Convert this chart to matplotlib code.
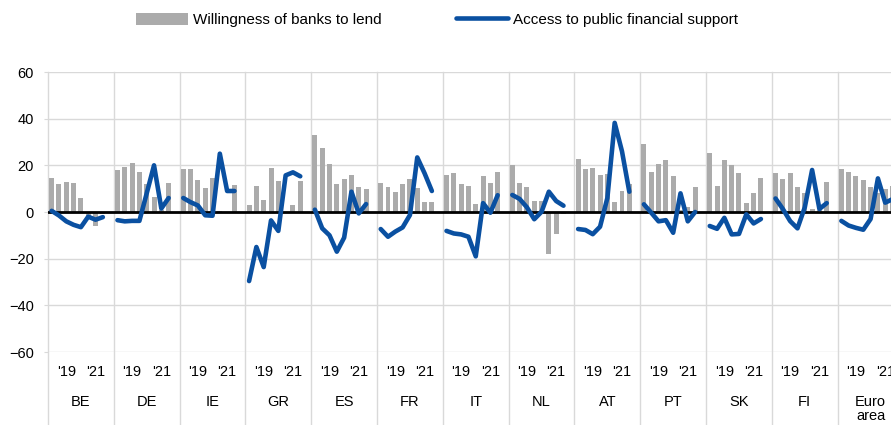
import matplotlib
matplotlib.use("Agg")
import matplotlib.pyplot as plt
import matplotlib.transforms as mtransforms
import numpy as np

plt.rcParams['font.family'] = ['Liberation Sans', 'DejaVu Sans']

countries = ['BE', 'DE', 'IE', 'GR', 'ES', 'FR', 'IT', 'NL', 'AT', 'PT', 'SK', 'FI', 'Euro\narea']
year_ticks = ["'19", "'21"]
year_slots = [2, 6]

# willingness of banks to lend (bars), 8 survey rounds per country
lend = [
    [14.5, 12, 13, 12.5, 6, -2, -6, -1],
    [18, 19.4, 21, 17.3, 12, 6.3, 1, 12.3],
    [18.6, 18.3, 13.6, 10.4, 14.5, 0.5, 0, 11.7],
    [3, 11.2, 5, 19, 13.2, 0, 2.8, 13.5],
    [33, 27.4, 20.7, 11.9, 14.1, 15.9, 10.6, 10],
    [12.3, 10.7, 8.6, 12.2, 14, 10.5, 4.2, 4.5],
    [16, 16.7, 11.9, 11.3, 3.3, 15.3, 12.4, 17],
    [20.1, 12.3, 10.9, 4.9, 4.7, -18, -9.6, -1],
    [22.7, 18.6, 18.7, 16, 16.3, 4.4, 9.1, 12],
    [29, 17.1, 20.7, 22.2, 15.6, 1, 2, 10.9],
    [25.3, 11.1, 22.3, 20.1, 16.7, 3.9, 8.1, 14.6],
    [16.6, 14.3, 16.6, 10.7, 8.2, 1.2, 1, 12.7],
    [18.6, 17.3, 15.6, 13.7, 10.9, 8, 10, 11],
]

# access to public financial support (line)
support = [
    [0.5, -1.5, -4, -5.5, -6.5, -2, -3.3, -2.2],
    [-3.5, -4, -3.8, -3.8, 8, 20, 1.5, 6],
    [6, 4.2, 2.8, -1.4, -1.6, 25, 9, 9],
    [-29.6, -15, -23.6, -3.6, -8.1, 15.7, 17, 15.3],
    [1, -7, -10, -17, -11, 8.7, -0.6, 3.4],
    [-7.3, -10.6, -8.4, -6.6, -1.3, 23.4, 16.6, 9],
    [-8.1, -9.2, -9.6, -10.6, -19, 3.8, -0.3, 7.2],
    [7.3, 5.6, 2, -3.1, 0.1, 8.7, 4.7, 2.7],
    [-7.3, -7.7, -9.5, -6.3, 6, 38.2, 26, 8.7],
    [3.3, -0.3, -4, -3.5, -8.9, 8, -4, 0],
    [-6, -7.2, -2.5, -9.6, -9.4, -1, -4.9, -3],
    [5.8, 1.3, -3.9, -7, 2, 18, 1.3, 3.8],
    [-3.8, -5.8, -6.8, -7.6, -3, 14.4, 4, 5.5],
]

n_per = len(lend[0])
slot = n_per + 1  # one empty slot between groups
blue = '#0a50a1'
grey = '#ababab'
grid_c = '#d9d9d9'

fig = plt.figure(figsize=(8.91, 4.25), dpi=100)
ax = fig.add_axes([48 / 891, 1 - 352 / 425, 855.5 / 891, 280 / 425])

x_bar = []
y_bar = []
x_line = []
y_line = []
for g in range(len(countries)):
    xs = g * slot + np.arange(n_per) + 0.5
    x_bar.extend(xs)
    y_bar.extend(lend[g])
    x_line.extend(xs)
    y_line.extend(support[g])
    x_line.append(np.nan)
    y_line.append(np.nan)

bars = ax.bar(x_bar, y_bar, width=0.68, color=grey, zorder=2,
              label='Willingness of banks to lend')
ax.axhline(0, color='black', lw=2, zorder=3)
line, = ax.plot(x_line, y_line, color=blue, lw=3.3, zorder=4,
                solid_capstyle='round', solid_joinstyle='round',
                label='Access to public financial support')

ax.set_xlim(0, len(countries) * slot)
ax.set_ylim(-60, 60)
ax.set_yticks(np.arange(-60, 61, 20))
ax.yaxis.grid(True, color=grid_c, lw=1, zorder=0)
ax.tick_params(axis='y', length=3, color=grid_c, pad=7, labelsize=10.5)
ax.set_xticks([])
for s in ax.spines.values():
    s.set_visible(False)

trans = mtransforms.blended_transform_factory(ax.transData, ax.transAxes)
for g in range(len(countries) + 1):
    ax.plot([g * slot, g * slot], [1, -0.27], color=grid_c, lw=1,
            transform=trans, clip_on=False, zorder=0)

for g, name in enumerate(countries):
    for lab, s in zip(year_ticks, year_slots):
        ax.text(g * slot + s + 0.5, -0.072, lab, transform=trans,
                ha='center', va='center', fontsize=10.5, clip_on=False)
    ax.text(g * slot + slot / 2, -0.152, name, transform=trans,
            ha='center', va='top', fontsize=10.5, linespacing=1.05, clip_on=False)

fig.legend(handles=[bars, line], loc='center left', bbox_to_anchor=(122 / 891, 0.953),
           ncol=2, frameon=False, fontsize=11, handlelength=3.4,
           handleheight=0.8, handletextpad=0.33, columnspacing=4.9)

fig.savefig('out.png', dpi=100)
